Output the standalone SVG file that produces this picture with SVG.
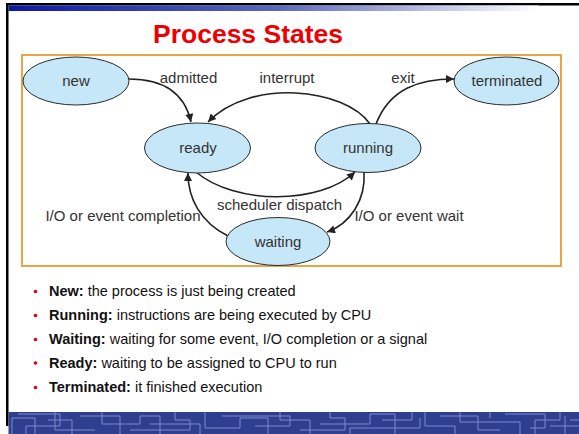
<svg xmlns="http://www.w3.org/2000/svg" width="579" height="434" viewBox="0 0 579 434">
<style>
.node ellipse{fill:#c6e7f7;stroke:#2a2a2a;stroke-width:1}
.lbl{font-family:"Liberation Sans",Arial,sans-serif;font-size:15px;fill:#333;text-anchor:middle}
.edge{fill:none;stroke:#222;stroke-width:1.6;marker-end:url(#ah)}
.bt{font-family:"Liberation Sans",Arial,sans-serif;font-size:14.5px;fill:#111}
.bt tspan.b{font-weight:bold}
.dot{fill:#e00000}
.pat{fill:none;stroke:#7d8acb;stroke-width:1}
</style>
<defs>
<linearGradient id="g" x1="0" y1="0" x2="1" y2="0">
<stop offset="0" stop-color="#0a1aa3"/>
<stop offset="0.5" stop-color="#5a66bd"/>
<stop offset="1" stop-color="#ffffff"/>
</linearGradient>
<marker id="ah" viewBox="0 0 10 10" refX="10" refY="5" markerUnits="userSpaceOnUse" markerWidth="9" markerHeight="8" orient="auto">
<path d="M0,0 L10,5 L0,10 z" fill="#222"/>
</marker>
</defs>
<rect x="0" y="0" width="579" height="434" fill="#fff"/>
<!-- frame -->
<rect x="6" y="3" width="573" height="2.5" fill="#000"/>
<rect x="6" y="3" width="2.5" height="423" fill="#000"/>
<rect x="8.5" y="5.5" width="530" height="5.5" fill="url(#g)"/>
<!-- title -->
<text x="248" y="43" font-family="'Liberation Sans',Arial,sans-serif" font-size="26.5" font-weight="bold" fill="#ee0000" text-anchor="middle">Process States</text>
<!-- diagram box -->
<rect x="22" y="55" width="539" height="211" fill="#fff" stroke="#e9a445" stroke-width="2"/>
<!-- connectors -->
<g id="connectors">
<path class="edge" d="M129,79 C165,79 185,95 191,122"/>
<path class="edge" d="M370,124 C345,88 250,78 208,122"/>
<path class="edge" d="M376,124 C390,88 420,79 454,79"/>
<path class="edge" d="M196,172 C235,205 320,205 355,172"/>
<path class="edge" d="M364,172 C366,200 350,224 327,232"/>
<path class="edge" d="M228,236 C200,222 188,198 188,173"/>
<text class="lbl" x="188.5" y="83">admitted</text>
<text class="lbl" x="287" y="83">interrupt</text>
<text class="lbl" x="403" y="83">exit</text>
<text class="lbl" x="279.5" y="210">scheduler dispatch</text>
<text class="lbl" x="123" y="221">I/O or event completion</text>
<text class="lbl" x="409" y="221">I/O or event wait</text>
</g>
<g id="new" class="node"><ellipse cx="76" cy="81" rx="53" ry="24"/><text class="lbl" x="76" y="86">new</text></g>
<g id="terminated" class="node"><ellipse cx="506.5" cy="81" rx="52.5" ry="24"/><text class="lbl" x="507" y="86">terminated</text></g>
<g id="ready" class="node"><ellipse cx="197.5" cy="148" rx="53" ry="25"/><text class="lbl" x="198" y="153">ready</text></g>
<g id="running" class="node"><ellipse cx="368" cy="148" rx="53" ry="24.5"/><text class="lbl" x="368" y="153">running</text></g>
<g id="waiting" class="node"><ellipse cx="278" cy="241.5" rx="52" ry="24"/><text class="lbl" x="278" y="247">waiting</text></g>
<!-- bullets -->
<circle class="dot" cx="35.5" cy="291.5" r="1.8"/>
<circle class="dot" cx="35.5" cy="315.5" r="1.8"/>
<circle class="dot" cx="35.5" cy="339.5" r="1.8"/>
<circle class="dot" cx="35.5" cy="363" r="1.8"/>
<circle class="dot" cx="35.5" cy="387.5" r="1.8"/>
<text class="bt" x="49" y="296"><tspan class="b">New:</tspan> the process is just being created</text>
<text class="bt" x="49" y="320"><tspan class="b">Running:</tspan> instructions are being executed by CPU</text>
<text class="bt" x="49" y="344"><tspan class="b">Waiting:</tspan> waiting for some event, I/O completion or a signal</text>
<text class="bt" x="49" y="367.5"><tspan class="b">Ready:</tspan> waiting to be assigned to CPU to run</text>
<text class="bt" x="49" y="392"><tspan class="b">Terminated:</tspan> it finished execution</text>
<!-- bottom band -->
<rect x="8.5" y="412" width="571" height="22" fill="#2e3f90"/>
<path class="pat" d="M12,434 V418 H35 V434 M18,414 H60 V426 H26 V434 M48,420 H72 V434 M55,412 V430 H95 M80,416 H120 V434 M102,412 V424 H140 V416 H160 V434 M130,430 H190 V420 H175 V412 M150,424 H200 V434 M205,412 V428 H240 V418 H268 V434 M222,416 H290 V426 H255 M280,412 V420 H310 V434 M300,430 H345 V418 H330 V412 M320,424 H370 V414 H395 V434 M350,434 V428 H420 V418 M382,420 H412 V412 M425,412 V426 H455 V434 M440,416 H478 V430 H500 M460,412 V422 H520 V434 M490,418 V412 M505,414 H545 V428 H530 M535,434 V420 H560 V412 M550,426 H579 M565,416 V434 M570,420 H579"/>
</svg>
